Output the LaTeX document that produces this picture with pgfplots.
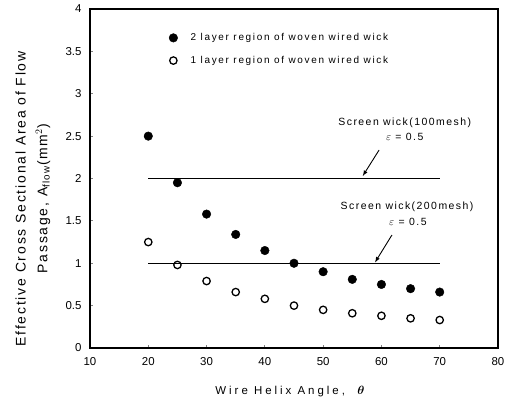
\documentclass[border=0pt]{standalone}
\usepackage{pgfplots}
\pgfplotsset{compat=1.18}
\usepackage{amsmath,bm}
\usepackage{fontspec}
\setmainfont{Liberation Sans}
\begin{document}
\begin{tikzpicture}
\begin{axis}[
  name=ax,
  scale only axis,
  width=408bp, height=339bp,
  xmin=10, xmax=80, ymin=0, ymax=4,
  xtick={10,20,...,80}, ytick={0,0.5,...,4},
  yticklabels={0,0.5,1,1.5,2,2.5,3,3.5,4},
  /pgf/number format/assume math mode=true,
  tick align=inside, major tick length=3pt,
  xtick pos=bottom, ytick pos=left,
  axis line style={line width=1.5pt},
  tick style={line width=0.8pt},
  tick label style={font=\fontsize{11.5}{13}\selectfont},
  xticklabel style={yshift=-6bp},
  yticklabel style={xshift=-5bp},
  xlabel={Wire Helix Angle,\ \ $\bm{\theta}$},
  xlabel style={font=\fontsize{11.5}{13}\selectfont\addfontfeature{LetterSpace=26},
    at={(axis description cs:0.49,0)}, anchor=center, yshift=-44bp},
  ylabel={Effective Cross Sectional Area of Flow\\[5bp]Passage, A$_{\text{flow}}$(mm$^2$)},
  ylabel style={font=\fontsize{14}{17}\selectfont\addfontfeature{LetterSpace=13}, align=center,
    at={(axis description cs:-0.14,0.44)}, anchor=center},
  legend style={draw=none, fill=none, at={(axis description cs:0.186,0.94)}, anchor=north west,
    font=\fontsize{10}{12}\selectfont\addfontfeature{LetterSpace=17}, row sep=10bp},
  legend cell align=left,
]
\addplot[only marks, mark=*, mark size=4.3bp, black] coordinates {
(20,2.5) (25,1.95) (30,1.58) (35,1.34) (40,1.15) (45,1.0) (50,0.9) (55,0.81) (60,0.75) (65,0.7) (70,0.66)};
\addlegendentry{\hspace{11bp}2 layer region of woven wired wick}
\addplot[only marks, mark=o, mark size=3.7bp, black, mark options={line width=1.3pt}] coordinates {
(20,1.25) (25,0.98) (30,0.79) (35,0.66) (40,0.58) (45,0.5) (50,0.45) (55,0.41) (60,0.38) (65,0.35) (70,0.33)};
\addlegendentry{\hspace{11bp}1 layer region of woven wired wick}
\addplot[black, line width=1.1pt, forget plot] coordinates {(20,2) (70,2)};
\addplot[black, line width=1.1pt, forget plot] coordinates {(20,1) (70,1)};
\node[font=\fontsize{10.5}{12}\selectfont\addfontfeature{LetterSpace=14}] at (axis cs:64.0,2.655) {Screen wick(100mesh)};
\node[font=\fontsize{10.5}{12}\selectfont\addfontfeature{LetterSpace=14}] at (axis cs:64.0,2.49) {$\varepsilon$ = 0.5};
\draw[-latex, line width=0.9pt] (axis cs:59.6,2.336) -- (axis cs:56.8,2.03);
\node[font=\fontsize{10.5}{12}\selectfont\addfontfeature{LetterSpace=14}] at (axis cs:64.4,1.664) {Screen wick(200mesh)};
\node[font=\fontsize{10.5}{12}\selectfont\addfontfeature{LetterSpace=14}] at (axis cs:64.55,1.487) {$\varepsilon$ = 0.5};
\draw[-latex, line width=0.9pt] (axis cs:61.8,1.333) -- (axis cs:58.9,1.01);
\end{axis}
\path (ax.south west) ++(-90bp,-51bp);
\path (ax.north east) ++(15bp,9bp);
\end{tikzpicture}
\end{document}
